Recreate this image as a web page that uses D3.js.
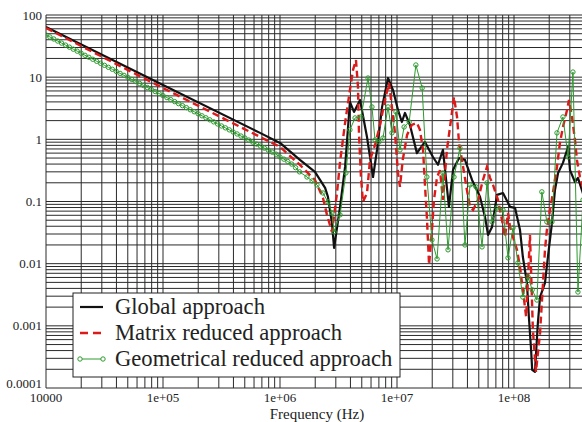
<!DOCTYPE html>
<html>
<head>
<meta charset="utf-8">
<script src="https://cdn.jsdelivr.net/npm/d3@7"></script>
<style>
  body { margin: 0; background: #fff; }
  svg { display: block; }
  text { font-family: "Liberation Serif", "Times New Roman", serif; fill: #222; }
</style>
</head>
<body>
<div id="chart"></div>
<script>
const width = 582, height = 422;

// tick labels
const xTickValues = [1e4, 1e5, 1e6, 1e7, 1e8];
const xTickLabels = ["10000", "1e+05", "1e+06", "1e+07", "1e+08"];
const yTickValues = [1e-4, 1e-3, 1e-2, 1e-1, 1, 10, 100];
const yTickLabels = ["0.0001", "0.001", "0.01", "0.1", "1", "10", "100"];

const seriesNames = ["Global approach", "Matrix reduced approach", "Geometrical reduced approach"];

// [frequency (Hz), value]
const globalApproach = [
  [1e4, 64], [1e5, 7.5], [6.75e5, 1.27], [1e6, 0.875], [1.48e6, 0.467], [1.99e6, 0.30],
  [2.43e6, 0.166], [2.57e6, 0.119], [2.78e6, 0.045], [2.9e6, 0.018], [3.26e6, 0.082],
  [3.6e6, 0.36], [3.96e6, 4.0], [4.29e6, 2.76], [4.83e6, 4.3], [5.54e6, 1.09],
  [6.24e6, 0.248], [6.75e6, 0.676], [7.45e6, 3.3], [8.38e6, 9.7], [9.25e6, 6.2],
  [1.02e7, 2.97], [1.1e7, 1.9], [1.17e7, 2.66], [1.29e7, 1.7], [1.48e7, 0.6],
  [1.73e7, 0.91], [2.03e7, 0.52], [2.24e7, 0.39], [2.47e7, 0.676], [2.78e7, 0.082],
  [3.01e7, 0.32], [3.39e7, 0.50], [3.81e7, 0.467], [4.38e7, 0.222], [5.12e7, 0.119],
  [5.65e7, 0.0565], [6.0e7, 0.029], [6.49e7, 0.039], [7.16e7, 0.128], [8.05e7, 0.137],
  [9.25e7, 0.082], [1.02e8, 0.079], [1.125e8, 0.035], [1.19e8, 0.0129], [1.29e8, 0.0049],
  [1.34e8, 0.0014], [1.4e8, 4.1e-4], [1.43e8, 1.96e-4], [1.51e8, 1.82e-4], [1.6e8, 1.12e-3],
  [1.67e8, 2.9e-3], [1.84e8, 0.0049], [1.95e8, 0.0129], [2.11e8, 0.045], [2.24e8, 0.153],
  [2.38e8, 0.288], [2.62e8, 0.418], [2.9e8, 0.755], [3.01e8, 0.32], [3.32e8, 0.206],
  [3.52e8, 0.24], [4.05e8, 0.106]
];

const matrixReduced = [
  [1e4, 61.8], [1e5, 6.7], [1e6, 0.755], [1.48e6, 0.388], [1.99e6, 0.222], [2.33e6, 0.114],
  [2.52e6, 0.061], [2.78e6, 0.0324], [3.07e6, 0.137], [3.26e6, 0.433], [3.6e6, 1.84],
  [3.96e6, 6.2], [4.21e6, 13.1], [4.46e6, 18.9], [4.64e6, 7.0], [4.73e6, 1.27],
  [4.92e6, 0.248], [5.12e6, 0.0986], [5.54e6, 0.137], [5.88e6, 0.467], [6.49e6, 0.813],
  [7.16e6, 1.71], [7.89e6, 4.3], [8.55e6, 8.07], [9.61e6, 1.27], [1.02e7, 0.288],
  [1.06e7, 0.172], [1.12e7, 0.467], [1.22e7, 1.18], [1.34e7, 1.71], [1.48e7, 1.84],
  [1.57e7, 1.42], [1.67e7, 0.676], [1.73e7, 0.199], [1.80e7, 0.0565], [1.88e7, 0.0096],
  [1.99e7, 0.035], [2.07e7, 0.106], [2.2e7, 0.248], [2.33e7, 0.32], [2.47e7, 0.106],
  [2.67e7, 0.676], [2.84e7, 1.58], [3.07e7, 4.8], [3.26e7, 2.29], [3.39e7, 0.875],
  [3.59e7, 0.467], [3.96e7, 0.153], [4.21e7, 0.082], [4.47e7, 0.073], [4.92e7, 0.106],
  [5.43e7, 0.222], [5.87e7, 0.36], [6.24e7, 0.24], [6.62e7, 0.185], [7.3e7, 0.106],
  [7.89e7, 0.0506], [8.38e7, 0.027], [8.89e7, 0.0656], [9.25e7, 0.039], [9.8e7, 0.027],
  [1.06e8, 0.0167], [1.125e8, 0.0089], [1.19e8, 0.0038], [1.27e8, 0.0014], [1.37e8, 0.029],
  [1.45e8, 8.6e-4], [1.54e8, 1.82e-4], [1.67e8, 7.7e-4], [1.77e8, 0.0049], [1.84e8, 0.0167],
  [1.91e8, 0.035], [2.03e8, 0.073], [2.15e8, 0.137], [2.33e8, 0.36], [2.47e8, 0.875],
  [2.62e8, 1.58], [2.84e8, 2.97], [2.95e8, 4.3], [3.13e8, 2.29], [3.32e8, 0.977],
  [3.45e8, 0.467], [3.66e8, 0.248], [4.05e8, 0.128]
];

const geometricalReduced = [
  [1.000e4, 47.7], [1.080e4, 44.3], [1.166e4, 41.1], [1.259e4, 38.1], [1.359e4, 35.3],
  [1.468e4, 32.8], [1.585e4, 30.4], [1.711e4, 28.2], [1.848e4, 26.2], [1.995e4, 24.3],
  [2.154e4, 22.5], [2.326e4, 20.9], [2.512e4, 19.4], [2.712e4, 18.0], [2.929e4, 16.7],
  [3.162e4, 15.5], [3.415e4, 14.4], [3.687e4, 13.4], [3.981e4, 12.4], [4.299e4, 11.5],
  [4.642e4, 10.7], [5.012e4, 9.91], [5.412e4, 9.19], [5.843e4, 8.53], [6.310e4, 7.92],
  [6.813e4, 7.35], [7.356e4, 6.82], [7.943e4, 6.33], [8.577e4, 5.87], [9.261e4, 5.45],
  [1.000e5, 5.05], [1.080e5, 4.69], [1.166e5, 4.35], [1.259e5, 4.04], [1.359e5, 3.75],
  [1.468e5, 3.48], [1.585e5, 3.23], [1.711e5, 2.99], [1.848e5, 2.78], [1.995e5, 2.58],
  [2.154e5, 2.39], [2.326e5, 2.22], [2.512e5, 2.06], [2.712e5, 1.91], [2.929e5, 1.77],
  [3.162e5, 1.64], [3.415e5, 1.53], [3.687e5, 1.42], [3.981e5, 1.31], [4.299e5, 1.22],
  [4.642e5, 1.13], [5.012e5, 1.05], [5.412e5, 0.974], [5.843e5, 0.904], [6.310e5, 0.839],
  [6.813e5, 0.778], [7.356e5, 0.722], [7.943e5, 0.670], [8.577e5, 0.622], [9.261e5, 0.577],
  [1.000e6, 0.52], [1.080e6, 0.48], [1.166e6, 0.44], [1.259e6, 0.40], [1.359e6, 0.35],
  [1.468e6, 0.30], [1.70e6, 0.248], [1.88e6, 0.214], [2.07e6, 0.185], [2.33e6, 0.137],
  [2.57e6, 0.0986], [2.78e6, 0.0656], [2.90e6, 0.0324], [3.26e6, 0.061], [3.66e6, 0.288],
  [3.96e6, 1.42], [4.38e6, 2.21], [4.92e6, 2.29], [5.65e6, 9.7], [6.11e6, 3.32],
  [6.49e6, 0.977], [7.02e6, 0.908], [7.59e6, 1.05], [8.38e6, 3.32], [9.06e6, 1.27],
  [9.8e6, 2.76], [1.06e7, 0.676], [1.15e7, 1.58], [1.27e7, 1.9], [1.45e7, 15.7],
  [1.64e7, 6.7], [1.80e7, 0.248], [1.99e7, 0.0241], [2.20e7, 0.0119], [2.47e7, 0.288],
  [2.73e7, 0.0167], [3.07e7, 0.248], [3.45e7, 0.728], [3.81e7, 0.020], [4.21e7, 0.185],
  [4.73e7, 0.172], [5.33e7, 0.0186], [5.87e7, 0.199], [6.49e7, 0.047], [7.16e7, 0.079],
  [8.05e7, 0.073], [8.89e7, 0.0124], [9.8e7, 0.0377], [1.08e8, 0.0103], [1.19e8, 0.0029],
  [1.32e8, 0.0061], [1.43e8, 0.0038], [1.57e8, 0.0026], [1.73e8, 0.143], [1.91e8, 0.047],
  [2.11e8, 0.047], [2.33e8, 1.27], [2.62e8, 2.29], [2.90e8, 0.52], [3.19e8, 12.1],
  [3.52e8, 0.0035], [3.89e8, 0.106]
];

// colours
const color_global = '#111111';
const color_matrix = '#dd1a1a';
const color_geom = '#2e9a2e';
const color_grid = '#2a2a2a';
const serif = '"Liberation Serif", "Times New Roman", serif';

// plot frame (right side runs off the picture)
const plot = {left: 46, top: 15, right: 631, bottom: 388};

const x = d3.scaleLog().domain([1e4, 1e9]).range([plot.left, plot.right]);
const y = d3.scaleLog().domain([1e-4, 100]).range([plot.bottom, plot.top]);

const svg = d3.select("#chart").append("svg")
    .attr("width", width)
    .attr("height", height)
    .attr("font-family", serif);

svg.append("defs").append("clipPath").attr("id", "plotclip")
  .append("rect")
    .attr("x", plot.left).attr("y", plot.top - 2)
    .attr("width", plot.right - plot.left).attr("height", plot.bottom - plot.top + 4);

// grid lines at every 1..9 x decade
const xGrid = [], yGrid = [];
for (let e = 4; e < 9; e++) for (let k = 1; k < 10; k++) xGrid.push(k * Math.pow(10, e));
for (let e = -4; e < 2; e++) for (let k = 1; k < 10; k++) yGrid.push(k * Math.pow(10, e));
yGrid.push(100);

const grid = svg.append("g").attr("stroke", color_grid).attr("stroke-width", 1);
grid.selectAll("line.vx").data(xGrid).join("line")
    .attr("class", "vx")
    .attr("x1", d => x(d)).attr("x2", d => x(d))
    .attr("y1", plot.top).attr("y2", plot.bottom);
grid.selectAll("line.hy").data(yGrid).join("line")
    .attr("class", "hy")
    .attr("x1", plot.left).attr("x2", plot.right)
    .attr("y1", d => y(d)).attr("y2", d => y(d));

// tick labels
svg.append("g").selectAll("text").data(yTickValues).join("text")
    .attr("x", 42)
    .attr("y", (d, i) => y(d) + (i === 0 ? 0 : 4.5))
    .attr("text-anchor", "end")
    .attr("font-family", serif)
    .attr("font-size", 13)
    .text((d, i) => yTickLabels[i]);

svg.append("g").selectAll("text").data(xTickValues).join("text")
    .attr("x", d => x(d))
    .attr("y", 402)
    .attr("text-anchor", "middle")
    .attr("font-family", serif)
    .attr("font-size", 13)
    .text((d, i) => xTickLabels[i]);

svg.append("text")
    .attr("x", 317).attr("y", 419)
    .attr("text-anchor", "middle")
    .attr("font-family", serif)
    .attr("font-size", 15)
    .text("Frequency (Hz)");

// curves
const line = d3.line().x(d => x(d[0])).y(d => y(d[1]));
const curves = svg.append("g").attr("clip-path", "url(#plotclip)");

curves.append("path").datum(globalApproach)
    .attr("d", line).attr("fill", "none")
    .attr("stroke", color_global).attr("stroke-width", 2.2)
    .attr("stroke-linejoin", "round");

curves.append("path").datum(matrixReduced)
    .attr("d", line).attr("fill", "none")
    .attr("stroke", color_matrix).attr("stroke-width", 2.4)
    .attr("stroke-dasharray", "7,4");

curves.append("path").datum(geometricalReduced)
    .attr("d", line).attr("fill", "none")
    .attr("stroke", color_geom).attr("stroke-width", 1);

curves.selectAll("circle").data(geometricalReduced).join("circle")
    .attr("cx", d => x(d[0])).attr("cy", d => y(d[1]))
    .attr("r", 2.2)
    .attr("fill", "none")
    .attr("stroke", color_geom).attr("stroke-width", 1);

// legend
const legend = svg.append("g");
legend.append("rect")
    .attr("x", 73).attr("y", 293).attr("width", 327).attr("height", 84)
    .attr("fill", "#fff").attr("stroke", "#222").attr("stroke-width", 1);

const legendY = [307, 333, 359];
const legendStyle = [
  {stroke: color_global, width: 2.2, dash: null},
  {stroke: color_matrix, width: 2.4, dash: "8,5"},
  {stroke: color_geom, width: 1, dash: null}
];
seriesNames.forEach((name, i) => {
    legend.append("line")
        .attr("x1", 80).attr("x2", 103)
        .attr("y1", legendY[i]).attr("y2", legendY[i])
        .attr("stroke", legendStyle[i].stroke)
        .attr("stroke-width", legendStyle[i].width)
        .attr("stroke-dasharray", legendStyle[i].dash);
    if (i === 2) {
        [80, 103].forEach(cx => legend.append("circle")
            .attr("cx", cx).attr("cy", legendY[i]).attr("r", 2.2)
            .attr("fill", "#fff").attr("stroke", color_geom));
    }
    legend.append("text")
        .attr("x", 115).attr("y", legendY[i] + 7)
        .attr("font-family", serif)
        .attr("font-size", 22.6)
        .text(name);
});
</script>
</body>
</html>
